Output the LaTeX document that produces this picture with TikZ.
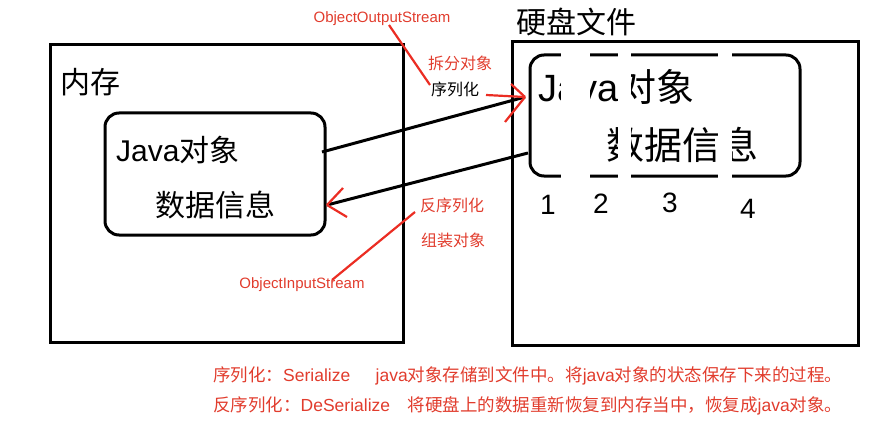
\documentclass[tikz,border=0pt]{standalone}
\usepackage{fontspec}
\setmainfont{Noto Sans CJK SC}
\newfontfamily\lat{Liberation Sans}
\begin{document}
\begin{tikzpicture}[x=1pt,y=-1pt,
  box/.style={draw=black,line width=3pt},
  rbox/.style={draw=black,line width=3pt,rounded corners=14pt},
  big/.style={font=\fontsize{30}{32}\selectfont,anchor=west,inner sep=0},
  bigr/.style={font=\fontsize{38}{40}\selectfont,anchor=west,inner sep=0},
  red/.style={text={rgb,255:red,225;green,60;blue,45},font=\fontsize{16}{18}\selectfont,inner sep=0},
  redb/.style={text={rgb,255:red,225;green,60;blue,45},font=\fontsize{17.5}{19}\selectfont,inner sep=0,anchor=west},
  redl/.style={draw={rgb,255:red,235;green,45;blue,35},line width=2.2pt},
  blk/.style={draw=black,line width=3pt}]
\useasboundingbox (0,0) rectangle (878,433);
\draw[box] (50,45) rectangle (403,342);
\node[big] (mem) at (60,82) {内存};
\draw[rbox] (105,113) rectangle (325,235);
\node[big] (j1) at (116,150) {\lat Java\normalfont 对象};
\node[big] (d1) at (155,205) {数据信息};
\draw[box] (512,42) rectangle (858,345);
\node[big] (disk) at (516,22) {硬盘文件};
\draw[rbox] (530,55) rectangle (800,176);
\node[bigr] (j2) at (538,87) {\lat Java\normalfont 对象};
\node[bigr] (d2) at (606,145) {数据信息};
\fill[white] (561,50) rectangle (590,182);
\fill[white] (618,50) rectangle (631,182);
\fill[white] (718,50) rectangle (732,182);
\foreach \n/\x/\y in {1/548/205,2/601/204,3/670/203,4/748/209}
  \node[font=\lat\fontsize{28}{30}\selectfont,inner sep=0] (n\n) at (\x,\y) {\n};
\coordinate (a1) at (322,152); \coordinate (a2) at (525,97);
\coordinate (b1) at (528,153); \coordinate (b2) at (327,205);
\draw[blk] (a1) -- (a2);
\draw[blk] (b1) -- (b2);
\draw[redl] (a2) -- ++(-14,-13) (a2) -- ++(-20,25);
\draw[redl] (b2) -- ++(16,-17) (b2) -- ++(20,12);
\node[red,font=\lat\fontsize{15}{17}\selectfont] (oos) at (382,19) {ObjectOutputStream};
\node[red] (cf) at (460,63) {拆分对象};
\node[red,text=black] (xl) at (455,89) {序列化};
\draw[redl] (389,25) -- (430,85);
\draw[redl] (486,95) -- (a2);
\node[red] (fx) at (452,205) {反序列化};
\node[red] (zz) at (453,240) {组装对象};
\node[red,font=\lat\fontsize{15}{17}\selectfont] (ois) at (302,285) {ObjectInputStream};
\draw[redl] (332,280) -- (415,212);
\node[redb] (l1) at (213,376) {序列化：{\lat Serialize}\quad\ \ {\lat java}对象存储到文件中。将{\lat java}对象的状态保存下来的过程。};
\node[redb] (l2) at (213,406) {反序列化：{\lat DeSerialize}\quad 将硬盘上的数据重新恢复到内存当中，恢复成{\lat java}对象。};
\end{tikzpicture}
\end{document}
